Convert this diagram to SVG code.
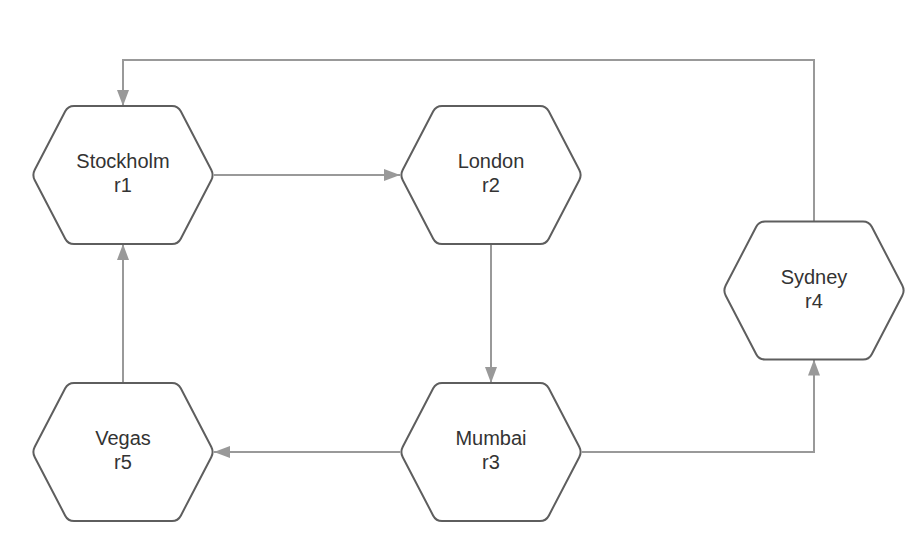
<svg xmlns="http://www.w3.org/2000/svg" width="920" height="550" viewBox="0 0 920 550">
  <style>
    .hex { fill: #ffffff; stroke: #5e5e5e; stroke-width: 2; }
    .lbl { font-family: "Liberation Sans", Arial, sans-serif; font-size: 20px; fill: #333333; text-anchor: middle; }
    .edge { fill: none; stroke: #999999; stroke-width: 2; marker-end: url(#arrow); }
  </style>
  <defs>
    <marker id="arrow" markerUnits="userSpaceOnUse" markerWidth="17" markerHeight="13" refX="16" refY="6.5" orient="auto">
      <path d="M0,0.5 L16,6.5 L0,12.5 Z" fill="#999999"/>
    </marker>
    <path id="hexShape" d="M-49,-69 L49,-69 Q55,-69 57.78,-63.68 L88.22,-5.32 Q91,0 88.22,5.32 L57.78,63.68 Q55,69 49,69 L-49,69 Q-55,69 -57.78,63.68 L-88.22,5.32 Q-91,0 -88.22,-5.32 L-57.78,-63.68 Q-55,-69 -49,-69 Z"/>
  </defs>
  <rect width="920" height="550" fill="#ffffff"/>

  <g id="connectors">
    <path class="edge" d="M214,175 L400,175"/>
    <path class="edge" d="M491,244 L491,383"/>
    <path class="edge" d="M400,452 L214,452"/>
    <path class="edge" d="M123,383 L123,244"/>
    <path class="edge" d="M582,452 L814,452 L814,359.5"/>
    <path class="edge" d="M814,221.5 L814,60 L123,60 L123,106"/>
  </g>

  <g id="stockholm">
    <use href="#hexShape" class="hex" transform="translate(123,175)"/>
    <text class="lbl" x="123" y="168">Stockholm</text>
    <text class="lbl" x="123" y="192">r1</text>
  </g>
  <g id="london">
    <use href="#hexShape" class="hex" transform="translate(491,175)"/>
    <text class="lbl" x="491" y="168">London</text>
    <text class="lbl" x="491" y="192">r2</text>
  </g>
  <g id="mumbai">
    <use href="#hexShape" class="hex" transform="translate(491,452)"/>
    <text class="lbl" x="491" y="445">Mumbai</text>
    <text class="lbl" x="491" y="469">r3</text>
  </g>
  <g id="sydney">
    <use href="#hexShape" class="hex" transform="translate(814,290.5)"/>
    <text class="lbl" x="814" y="283.5">Sydney</text>
    <text class="lbl" x="814" y="307.5">r4</text>
  </g>
  <g id="vegas">
    <use href="#hexShape" class="hex" transform="translate(123,452)"/>
    <text class="lbl" x="123" y="445">Vegas</text>
    <text class="lbl" x="123" y="469">r5</text>
  </g>
</svg>
